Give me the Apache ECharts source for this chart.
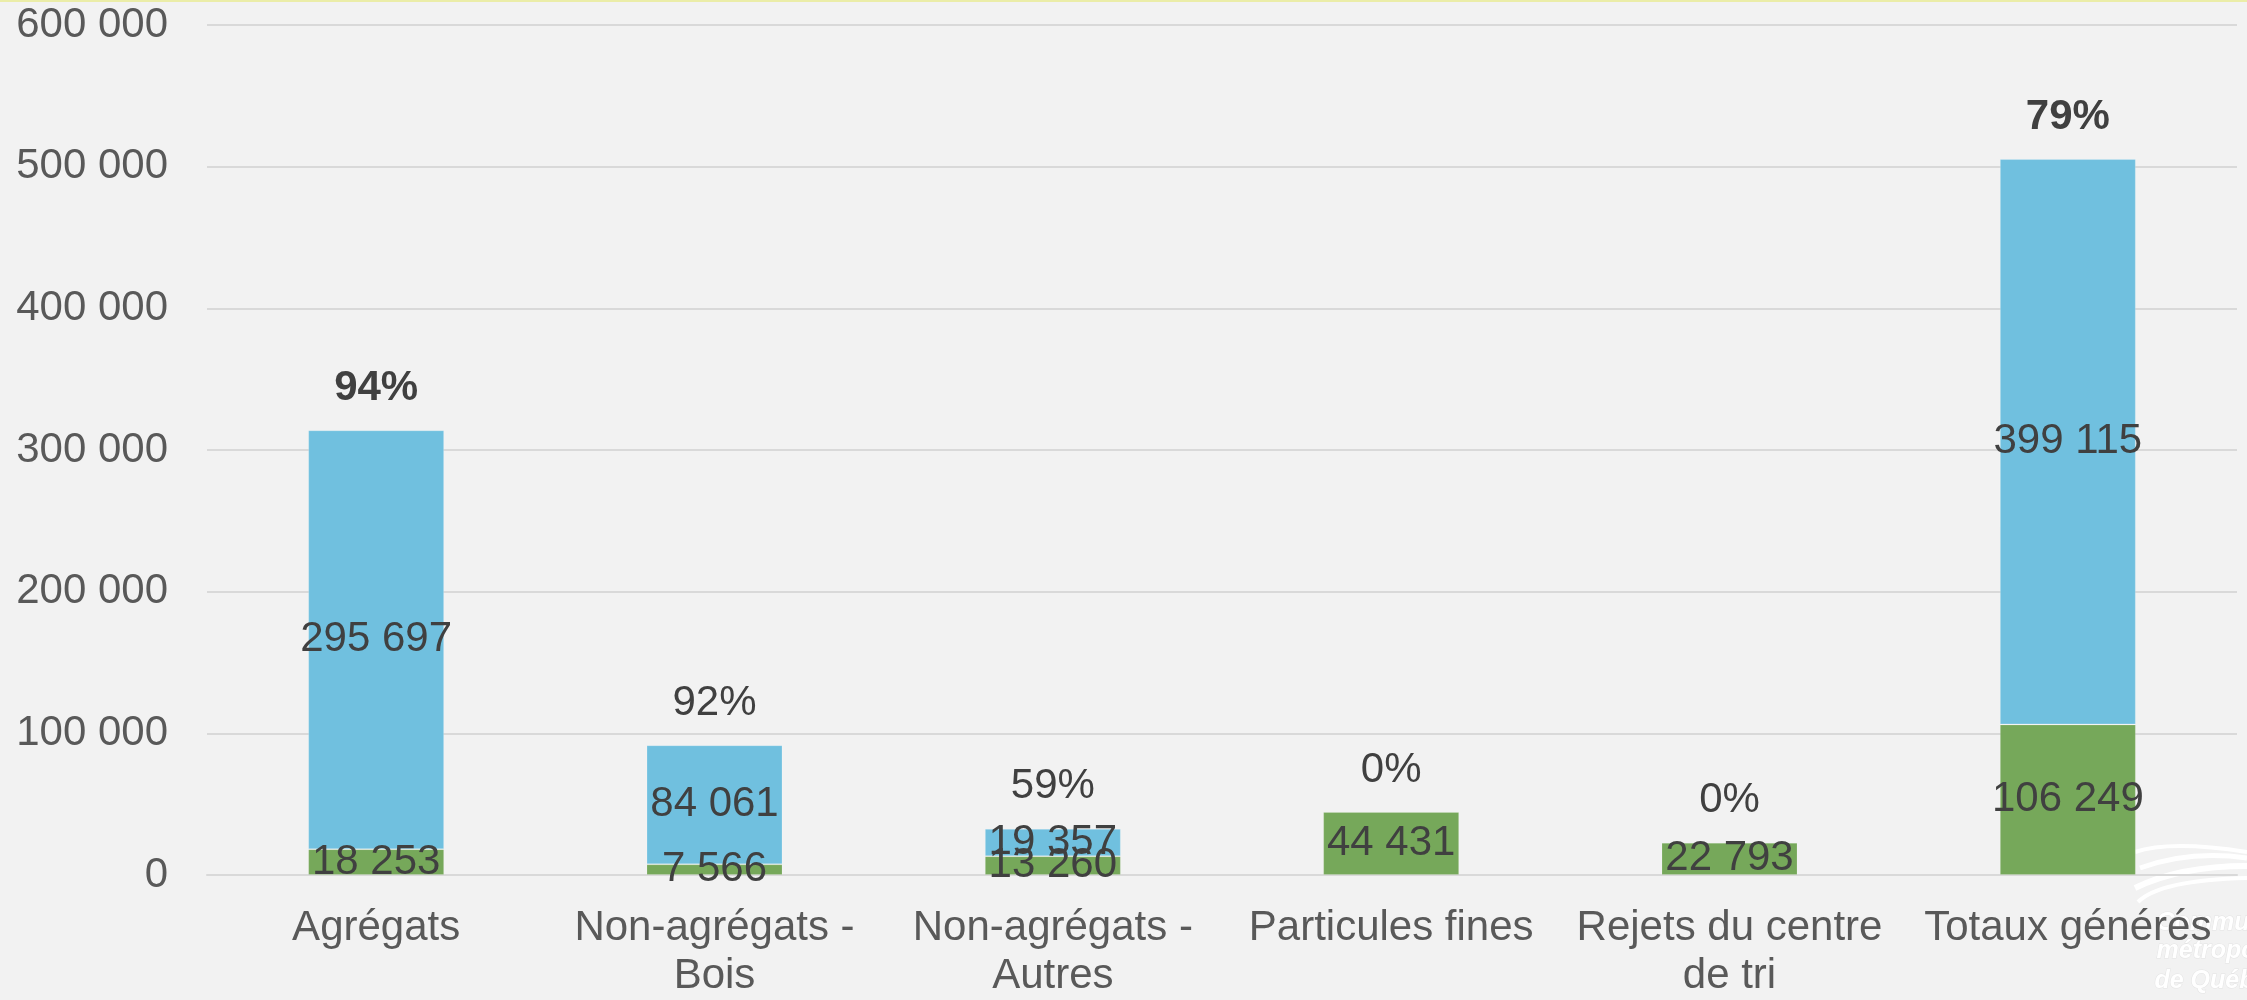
<!DOCTYPE html>
<html>
<head>
<meta charset="utf-8">
<script src="https://cdn.jsdelivr.net/npm/echarts@6/dist/echarts.min.js"></script>
<style>
html,body{margin:0;padding:0;background:#F2F2F2;}
#chart{width:2247px;height:1000px;}
</style>
</head>
<body>
<div id="chart"></div>
<script>
const categories = ["Agrégats", "Non-agrégats -\nBois", "Non-agrégats -\nAutres", "Particules fines", "Rejets du centre\nde tri", "Totaux générés"];
const greenValues = [18253, 7566, 13260, 44431, 22793, 106249];
const blueValues = [295697, 84061, 19357, null, null, 399115];
const percentLabels = ["94%", "92%", "59%", "0%", "0%", "79%"];
const percentBold = [true, false, false, false, false, true];
const yTicks = { min: 0, max: 600000, interval: 100000 };

const fmt = v => String(v).replace(/\B(?=(\d{3})+(?!\d))/g, ' ');
const FONT = '"Liberation Sans", Arial, sans-serif';

const chart = echarts.init(document.getElementById('chart'));
chart.setOption({
  backgroundColor: '#F2F2F2',
  animation: false,
  textStyle: { fontFamily: FONT },
  grid: { left: 207, right: 10, top: 25, bottom: 116, containLabel: false },
  xAxis: {
    type: 'category',
    data: categories,
    axisLine: { show: true, lineStyle: { color: '#D9D9D9', width: 2 } },
    axisTick: { show: false },
    axisLabel: { color: '#595959', fontSize: 42, fontFamily: FONT, lineHeight: 48, margin: 29, interval: 0 }
  },
  yAxis: {
    type: 'value',
    min: yTicks.min, max: yTicks.max, interval: yTicks.interval,
    axisLine: { show: false },
    axisTick: { show: false },
    splitLine: { lineStyle: { color: '#D9D9D9', width: 2 } },
    axisLabel: { color: '#595959', fontSize: 42, fontFamily: FONT, margin: 39, formatter: v => fmt(v) }
  },
  series: [
    {
      name: 'vert', type: 'bar', stack: 'total', barWidth: 136,
      data: greenValues,
      itemStyle: { color: '#76A85A', borderColor: 'rgba(255,255,255,0.15)', borderWidth: 1 },
      label: { show: true, position: 'inside', color: '#404040', fontSize: 42, fontFamily: FONT, formatter: p => fmt(p.value) }
    },
    {
      name: 'bleu', type: 'bar', stack: 'total', barWidth: 136,
      data: blueValues,
      itemStyle: { color: '#70C0DF', borderColor: 'rgba(255,255,255,0.2)', borderWidth: 1 },
      label: { show: true, position: 'inside', color: '#404040', fontSize: 42, fontFamily: FONT, formatter: p => p.value == null ? '' : fmt(p.value) }
    },
    {
      name: 'pct', type: 'bar', stack: 'total', barWidth: 136, silent: true,
      data: percentLabels.map(() => 0),
      itemStyle: { color: 'rgba(0,0,0,0)', borderWidth: 0 },
      label: {
        show: true, position: 'top', distance: 21,
        color: '#404040', fontSize: 42, fontFamily: FONT,
        formatter: p => percentBold[p.dataIndex] ? '{b|' + percentLabels[p.dataIndex] + '}' : percentLabels[p.dataIndex],
        rich: { b: { color: '#404040', fontSize: 42, fontFamily: FONT, fontWeight: 'bold' } }
      }
    }
  ],
  graphic: [
    { type: 'rect', shape: { x: 0, y: 0, width: 2247, height: 2 }, style: { fill: '#EBEDA8' }, silent: true },
    { type: 'bezierCurve', shape: { x1: 2135, y1: 852, cpx1: 2170, cpy1: 840, x2: 2247, y2: 852 }, style: { stroke: '#FFFFFF', lineWidth: 4, fill: null }, silent: true },
    { type: 'bezierCurve', shape: { x1: 2140, y1: 868, cpx1: 2190, cpy1: 850, x2: 2247, y2: 858 }, style: { stroke: '#FFFFFF', lineWidth: 5, fill: null }, silent: true },
    { type: 'bezierCurve', shape: { x1: 2135, y1: 888, cpx1: 2180, cpy1: 866, x2: 2247, y2: 866 }, style: { stroke: '#FFFFFF', lineWidth: 6, fill: null }, silent: true },
    { type: 'bezierCurve', shape: { x1: 2138, y1: 902, cpx1: 2160, cpy1: 880, x2: 2247, y2: 878 }, style: { stroke: '#FFFFFF', lineWidth: 4, fill: null }, silent: true },
    { type: 'text', left: 2156, top: 910, silent: true, z: -1, style: { text: 'Communauté', fill: '#FFFFFF', stroke: '#E4E4E4', lineWidth: 1, font: 'italic bold 25px ' + FONT } },
    { type: 'text', left: 2156, top: 938, silent: true, z: -1, style: { text: 'métropolitaine', fill: '#FFFFFF', stroke: '#E4E4E4', lineWidth: 1, font: 'italic bold 25px ' + FONT } },
    { type: 'text', left: 2154, top: 968, silent: true, z: -1, style: { text: 'de Québec', fill: '#FFFFFF', stroke: '#E4E4E4', lineWidth: 1, font: 'italic bold 25px ' + FONT } }
  ]
});
</script>
</body>
</html>
